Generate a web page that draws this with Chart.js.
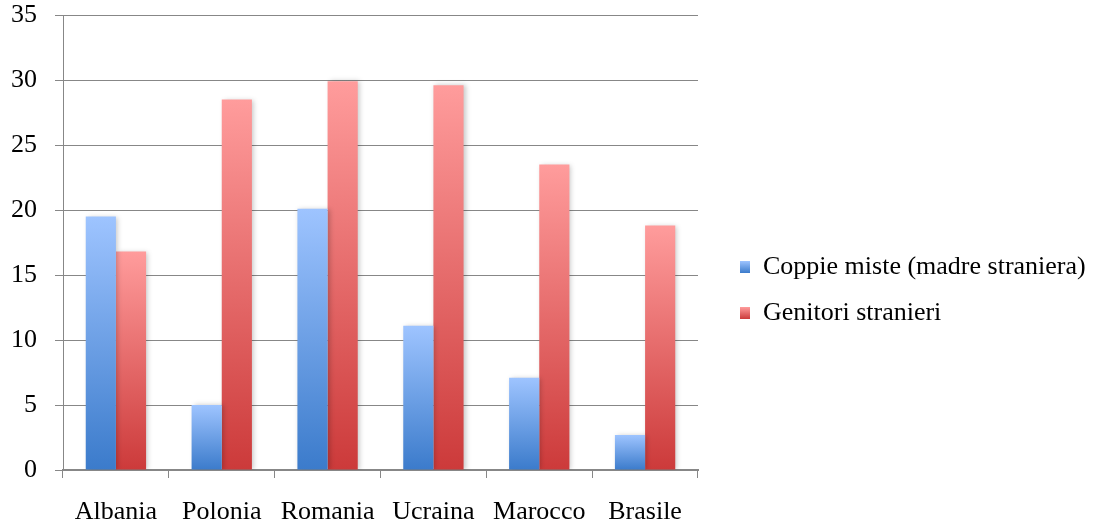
<!DOCTYPE html>
<html>
<head>
<meta charset="utf-8">
<script src="https://cdn.jsdelivr.net/npm/chart.js@4/dist/chart.umd.min.js"></script>
<style>
  html, body { margin: 0; padding: 0; background: #ffffff; }
  #wrap { width: 1097px; height: 524px; position: relative; }
</style>
</head>
<body>
<div id="wrap"><canvas id="c"></canvas></div>
<script>
// Paesi di origine
const categories = ['Albania', 'Polonia', 'Romania', 'Ucraina', 'Marocco', 'Brasile'];
// Valori percentuali per serie
const coppieMiste = [19.5, 5.0, 20.1, 11.1, 7.1, 2.7];
const genitoriStranieri = [16.8, 28.5, 29.9, 29.6, 23.5, 18.8];
const seriesLabels = ['Coppie miste (madre straniera)', 'Genitori stranieri'];
const yTicks = [0, 5, 10, 15, 20, 25, 30, 35];

const FONT = '"Liberation Serif", "Times New Roman", serif';
const FS = 26;
const GRID = '#878787';

const palettes = [
  { top: '#9ec4ff', bottom: '#3b7bcb' },
  { top: '#ff9c9c', bottom: '#cc3a3a' }
];

function barGradient(pal) {
  return (ctx) => {
    const chart = ctx.chart;
    if (!chart.chartArea || ctx.type !== 'data') return pal.bottom;
    const y = chart.scales.y;
    const top = y.getPixelForValue(ctx.raw);
    const base = y.getPixelForValue(0);
    if (!isFinite(top) || !isFinite(base) || top === base) return pal.bottom;
    const g = chart.ctx.createLinearGradient(0, top, 0, base);
    g.addColorStop(0, pal.top);
    g.addColorStop(1, pal.bottom);
    return g;
  };
}

const LEGEND_PAD = 20;
const BOX_W = 10;
const BOX_H = 12;

// Legend sizing / placement to the right of the plot
const legendPlacement = {
  id: 'legendPlacement',
  beforeUpdate(chart) {
    const lg = chart.legend;
    if (lg && !lg._fixedFit) {
      const fit = lg.fit;
      lg.fit = function () {
        fit.call(this);
        if (!this.isHorizontal()) this.width = 399;
      };
      lg._fixedFit = true;
    }
  },
  afterLayout(chart) {
    const lg = chart.legend;
    if (!lg) return;
    const left = chart.chartArea.right + 22;
    lg.right += left - lg.left;
    lg.left = left;
    lg.top += 28;
    lg.bottom += 28;
  }
};

// Soft shadow behind the bars
const barShadow = {
  id: 'barShadow',
  beforeDatasetsDraw(chart) {
    const c = chart.ctx;
    c.save();
    c.shadowColor = 'rgba(0,0,0,0.22)';
    c.shadowBlur = 5;
    c.shadowOffsetX = 2;
    c.shadowOffsetY = 0;
  },
  afterDatasetsDraw(chart) {
    chart.ctx.restore();
  }
};

new Chart(document.getElementById('c'), {
  type: 'bar',
  data: {
    labels: categories,
    datasets: [
      { label: seriesLabels[0], data: coppieMiste, backgroundColor: barGradient(palettes[0]), borderWidth: 0 },
      { label: seriesLabels[1], data: genitoriStranieri, backgroundColor: barGradient(palettes[1]), borderWidth: 0 }
    ]
  },
  options: {
    responsive: true,
    maintainAspectRatio: false,
    animation: false,
    layout: { padding: { left: 11, right: 0, top: 0, bottom: 0 } },
    datasets: { bar: { categoryPercentage: 0.57, barPercentage: 1.0 } },
    plugins: {
      tooltip: { enabled: false },
      legend: {
        position: 'right',
        labels: {
          color: '#000000',
          font: { family: FONT, size: FS },
          boxWidth: BOX_W,
          boxHeight: BOX_H,
          padding: LEGEND_PAD,
          generateLabels(chart) {
            const lg = chart.legend;
            const n = chart.data.datasets.length;
            const colH = n * (FS + LEGEND_PAD);
            const y0 = (lg.top + LEGEND_PAD + lg.bottom - colH) / 2;
            return chart.data.datasets.map((ds, i) => {
              const top = y0 + i * (FS + LEGEND_PAD) + (FS - BOX_H) / 2;
              const g = chart.ctx.createLinearGradient(0, top, 0, top + BOX_H);
              g.addColorStop(0, palettes[i].top);
              g.addColorStop(1, palettes[i].bottom);
              return {
                text: ds.label,
                fillStyle: g,
                strokeStyle: 'rgba(0,0,0,0)',
                lineWidth: 0,
                hidden: false,
                datasetIndex: i,
                fontColor: '#000000'
              };
            });
          }
        }
      }
    },
    scales: {
      x: {
        offset: true,
        afterFit(scale) {
          scale.height = 54;
          scale.paddingLeft = 0;
          scale.paddingRight = 0;
        },
        grid: {
          offset: true,
          drawOnChartArea: false,
          drawTicks: true,
          tickLength: 8,
          color: GRID,
          lineWidth: 1
        },
        border: { display: true, color: GRID, width: 2 },
        ticks: {
          color: '#000000',
          font: { family: FONT, size: FS },
          padding: 19,
          maxRotation: 0,
          autoSkip: false
        }
      },
      y: {
        min: 0,
        max: 35,
        afterBuildTicks(scale) {
          scale.ticks = yTicks.map(v => ({ value: v }));
        },
        afterFit(scale) {
          scale.width = 52;
          scale.paddingTop = 15;
          scale.paddingBottom = 0;
        },
        grid: {
          color: GRID,
          lineWidth: 1,
          tickLength: 8,
          drawTicks: true
        },
        border: { display: true, color: GRID, width: 1 },
        ticks: {
          color: '#000000',
          font: { family: FONT, size: FS },
          padding: 18
        }
      }
    }
  },
  plugins: [legendPlacement, barShadow]
});
</script>
</body>
</html>
